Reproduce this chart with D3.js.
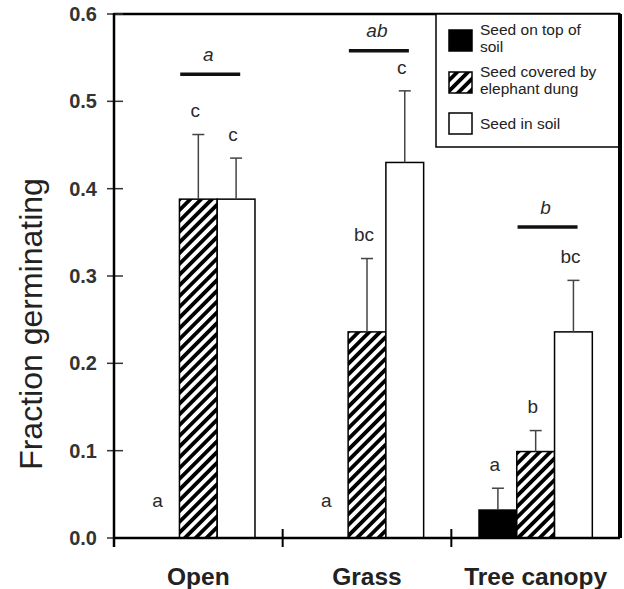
<!DOCTYPE html>
<html>
<head>
<meta charset="utf-8">
<script src="https://cdn.jsdelivr.net/npm/d3@7/dist/d3.min.js"></script>
<style>
  html, body { margin: 0; padding: 0; background: #fff; }
  svg { display: block; font-family: Arial, "Liberation Sans", Helvetica, sans-serif; }
</style>
</head>
<body>
<svg id="chart" width="624" height="589"></svg>
<script>
// Habitats along the x axis
const categories = ["Open", "Grass", "Tree canopy"];
// Seed treatments (bars within each habitat)
const series = ["Seed on top of soil", "Seed covered by elephant dung", "Seed in soil"];
const legendLines = [["Seed on top of", "soil"], ["Seed covered by", "elephant dung"], ["Seed in soil"]];

// Mean fraction germinating per habitat
const topOfSoil     = [0.000, 0.000, 0.032];
const coveredByDung = [0.388, 0.236, 0.099];
const inSoil        = [0.388, 0.430, 0.236];

// Standard errors (upper bars only)
const seTopOfSoil     = [0.000, 0.000, 0.025];
const seCoveredByDung = [0.074, 0.084, 0.024];
const seInSoil        = [0.047, 0.082, 0.059];

// Post-hoc letters for each bar
const lettersTopOfSoil     = ["a", "a", "a"];
const lettersCoveredByDung = ["c", "bc", "b"];
const lettersInSoil        = ["c", "c", "bc"];

// Habitat-level comparison letters and the level of their bars
const habitatLetters = ["a", "ab", "b"];
const habitatBarLevel = [0.531, 0.558, 0.356];

const yTicks = [0.0, 0.1, 0.2, 0.3, 0.4, 0.5, 0.6];

const means = [topOfSoil, coveredByDung, inSoil];
const errors = [seTopOfSoil, seCoveredByDung, seInSoil];
const letters = [lettersTopOfSoil, lettersCoveredByDung, lettersInSoil];

const bars = [];
categories.forEach((c, ci) => {
  series.forEach((s, si) => {
    bars.push({ cat: c, ser: s, si, v: means[si][ci], se: errors[si][ci], letter: letters[si][ci] });
  });
});

const svg = d3.select("#chart");
const plotLeft = 114, plotRight = 620, plotTop = 14, plotBottom = 538;

const x0 = d3.scaleBand().domain(categories).range([plotLeft, plotRight]).paddingInner(0).paddingOuter(0);
const x1 = d3.scaleBand().domain(series).range([0, x0.bandwidth()]).paddingInner(0).paddingOuter(0.733);
const y = d3.scaleLinear().domain([0, 0.6]).range([plotBottom, plotTop]);

// Diagonal hatch for the dung treatment
const defs = svg.append("defs");
const pat = defs.append("pattern")
  .attr("id", "hatch")
  .attr("patternUnits", "userSpaceOnUse")
  .attr("width", 7.6).attr("height", 7.6)
  .attr("patternTransform", "rotate(45)");
pat.append("rect").attr("width", 7.6).attr("height", 7.6).attr("fill", "#fff");
pat.append("rect").attr("width", 3.8).attr("height", 7.6).attr("fill", "#000");

const fills = ["#000", "url(#hatch)", "#fff"];

// Bars
svg.append("g").selectAll("rect")
  .data(bars.filter(d => d.v > 0))
  .join("rect")
  .attr("x", d => x0(d.cat) + x1(d.ser))
  .attr("y", d => y(d.v))
  .attr("width", x1.bandwidth())
  .attr("height", d => y(0) - y(d.v))
  .attr("fill", d => fills[d.si])
  .attr("stroke", "#000")
  .attr("stroke-width", 1.5);

// Upper error bars
const eb = svg.append("g").attr("stroke", "#444").attr("stroke-width", 1.5);
bars.filter(d => d.se > 0).forEach(d => {
  const cx = x0(d.cat) + x1(d.ser) + x1.bandwidth() / 2;
  eb.append("line").attr("x1", cx).attr("x2", cx).attr("y1", y(d.v)).attr("y2", y(d.v + d.se));
  eb.append("line").attr("x1", cx - 6).attr("x2", cx + 6).attr("y1", y(d.v + d.se)).attr("y2", y(d.v + d.se));
});

// Letters above each bar
svg.append("g").selectAll("text")
  .data(bars)
  .join("text")
  .attr("x", d => x0(d.cat) + x1(d.ser) + x1.bandwidth() / 2 - 3)
  .attr("y", d => (d.se > 0 ? y(d.v + d.se) - 24 : y(d.v) - 38))
  .attr("dy", "0.35em")
  .attr("text-anchor", "middle")
  .attr("font-size", 19)
  .attr("fill", "#2a2a2a")
  .text(d => d.letter);

// Habitat comparison bars and italic letters
const hg = svg.append("g");
categories.forEach((c, ci) => {
  const cx = x0(c) + x1(series[2]) - 7;
  const ly = y(habitatBarLevel[ci]);
  hg.append("line")
    .attr("x1", cx - 30).attr("x2", cx + 30)
    .attr("y1", ly).attr("y2", ly)
    .attr("stroke", "#111").attr("stroke-width", 3.5);
  hg.append("text")
    .attr("x", cx - 2).attr("y", ly - 20).attr("dy", "0.35em")
    .attr("text-anchor", "middle")
    .attr("font-size", 19).attr("font-style", "italic")
    .attr("fill", "#2a2a2a")
    .text(habitatLetters[ci]);
});

// Frame: top edge
svg.append("line").attr("x1", plotLeft).attr("x2", plotRight).attr("y1", plotTop).attr("y2", plotTop)
  .attr("stroke", "#000").attr("stroke-width", 2.5);

// Y axis
const yAxis = d3.axisLeft(y).tickValues(yTicks).tickFormat(d3.format(".1f")).tickSize(0).tickPadding(17);
const gy = svg.append("g").attr("transform", `translate(${plotLeft},0)`).call(yAxis);
gy.select(".domain").remove();
gy.selectAll("text").attr("font-size", 20).attr("font-weight", "bold").attr("fill", "#333")
  .attr("font-family", "Arial, 'Liberation Sans', sans-serif");
svg.append("g").selectAll("line").data(yTicks).join("line")
  .attr("x1", plotLeft - 7).attr("x2", plotLeft + 9)
  .attr("y1", d => y(d)).attr("y2", d => y(d))
  .attr("stroke", "#333").attr("stroke-width", 1.5);
svg.append("line").attr("x1", plotLeft).attr("x2", plotLeft).attr("y1", plotTop - 1).attr("y2", plotBottom + 9)
  .attr("stroke", "#000").attr("stroke-width", 2.5);

// X axis with habitat boundary ticks
svg.append("line").attr("x1", plotLeft).attr("x2", plotRight).attr("y1", plotBottom).attr("y2", plotBottom)
  .attr("stroke", "#000").attr("stroke-width", 2.5);
svg.append("g").selectAll("line").data(categories).join("line")
  .attr("x1", d => x0(d)).attr("x2", d => x0(d))
  .attr("y1", plotBottom - 9).attr("y2", plotBottom + 9)
  .attr("stroke", "#000").attr("stroke-width", 2);
const xAxis = d3.axisBottom(x0).tickSize(0).tickPadding(30);
const gx = svg.append("g").attr("transform", `translate(0,${plotBottom})`).call(xAxis);
gx.select(".domain").remove();
gx.selectAll("text").attr("font-size", 24.5).attr("font-weight", "bold").attr("fill", "#222")
  .attr("font-family", "Arial, 'Liberation Sans', sans-serif");

// Y title
svg.append("text")
  .attr("transform", `translate(42,324) rotate(-90)`)
  .attr("text-anchor", "middle")
  .attr("font-size", 32)
  .attr("fill", "#222")
  .text("Fraction germinating");

// Legend
const lg = svg.append("g");
lg.append("rect").attr("x", 436).attr("y", plotTop).attr("width", plotRight - 436).attr("height", 133)
  .attr("fill", "#fff").attr("stroke", "#000").attr("stroke-width", 1.5);
const swatchY = [30, 72, 113];
series.forEach((s, i) => {
  lg.append("rect").attr("x", 449).attr("y", swatchY[i]).attr("width", 23).attr("height", 21)
    .attr("fill", fills[i]).attr("stroke", "#000").attr("stroke-width", 1.5);
  const lines = legendLines[i];
  const startY = lines.length === 1 ? swatchY[i] + 16 : swatchY[i] + 5;
  lines.forEach((ln, k) => {
    lg.append("text").attr("font-size", 15.5).attr("fill", "#222")
      .attr("x", 480).attr("y", startY + k * 17).text(ln);
  });
});

// Right edge of the frame, drawn last so it sits over the legend border
svg.append("line").attr("x1", plotRight).attr("x2", plotRight).attr("y1", plotTop).attr("y2", plotBottom)
  .attr("stroke", "#000").attr("stroke-width", 4);
</script>
</body>
</html>
